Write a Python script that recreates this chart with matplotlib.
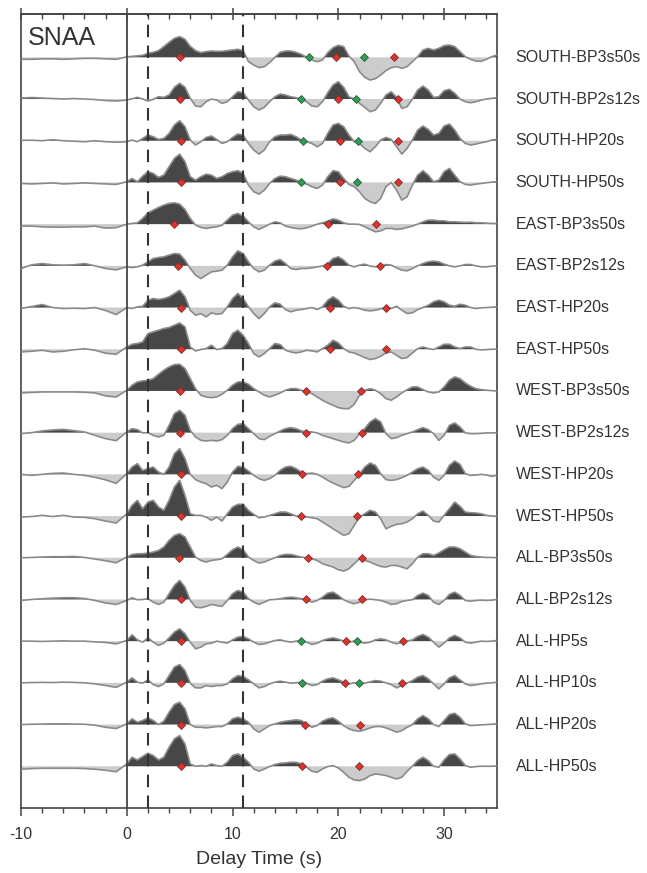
import numpy as np
import matplotlib.pyplot as plt
from matplotlib.ticker import MultipleLocator

plt.rcParams['font.family'] = ['Liberation Sans', 'DejaVu Sans']
plt.rcParams['axes.unicode_minus'] = False

# =========================
# sample times: 1 s steps before zero, 0.5 s steps after
# =========================
delay = np.concatenate([np.arange(-10, 0, 1.0), np.arange(0, 35.01, 0.5)])

names = [
    'SOUTH-BP3s50s', 'SOUTH-BP2s12s', 'SOUTH-HP20s', 'SOUTH-HP50s',
    'EAST-BP3s50s', 'EAST-BP2s12s', 'EAST-HP20s', 'EAST-HP50s',
    'WEST-BP3s50s', 'WEST-BP2s12s', 'WEST-HP20s', 'WEST-HP50s',
    'ALL-BP3s50s', 'ALL-BP2s12s', 'ALL-HP5s', 'ALL-HP10s', 'ALL-HP20s', 'ALL-HP50s',
]

# amplitudes (arbitrary units)
south_bp3s50s = [-2, -2, -1.5, -1.5, -2, -1.5, -1, -1, -1.5, -2,
                 0.5, 1, 1.5, 2, 4, 5, 6.7, 10.7, 15, 19,
                 20.7, 18, 11, 6.7, 4.7, 5.7, 6.3, 6, 6, 6.7,
                 7.3, 8, 6.7, -4.3, -7.7, -10.3, -9.3, -5.3, 0, 5,
                 6.3, 6.3, 5, 3, 0, -2.7, -4.3, -2.7, 4.7, 9.7,
                 12, 10.7, 1.3, -4.3, -14.3, -20, -22.7, -21.3, -17.7, -13.3,
                 -10.3, -9.3, -11, -9.3, -4.3, 0.7, 7.3, 9, 7.3, 9,
                 11.7, 12.3, 10.7, 5.7, 0.7, -2, -3.7, -4, -2, 0.7, 2.3]
south_bp2s12s = [1, 1.5, 1, 0.5, 0, 0.5, 0, -0.5, -1.5, -2,
                 -1, 0.3, 1.7, 0, -2, -0.3, 2.3, 1.7, 4, 11.7,
                 15.7, 11.7, 0.7, -7, -7.7, -2.7, 0, -1, -4.3, -2.7,
                 2.3, 7.3, 6.3, -1, -7.7, -11, -8.3, -2.7, 2.3, 5,
                 4, 2.3, 1.3, 0, -2.7, -7, -7.7, -2.7, 6.3, 14,
                 17.3, 11.7, 2.3, 0, -4.3, -8.3, -12.7, -11, -4.3, 4,
                 7.3, 1.7, -9.3, -7.7, 0, 9, 13, 9, 1.7, 2.3,
                 8.3, 9.7, 5.7, 0, -2.7, -3.7, -2.7, -1, 0, 0.7, 1.3]
south_hp20s = [0.5, 0.5, 0, 1, 0, -0.5, -1, 0, -1, -1.5,
               -1, 0.7, -1, 2.3, 5.7, 4, 1.3, 2.3, 7.3, 15.7,
               20, 14, 0.7, -4.3, -1, 3.3, 4.7, 1.3, -2.7, -1,
               3.3, 6.7, 5.7, -2.7, -9.3, -13.3, -9.3, -1, 4, 5.7,
               5.7, 6.3, 4, 0.7, -1, -2.7, -6, -2.7, 7.3, 15.7,
               17.3, 14, 5.7, -1, -2.7, -7.7, -11, -6, 0.7, 3.3,
               1.3, -6, -13.3, -7.7, 0.7, 10.7, 14.7, 11.3, 5.7, 7.3,
               14.7, 16.7, 10.7, 2.3, -2.7, -4.3, -3.3, -2, -1, 0.7, 1.3]
south_hp50s = [-1, -1.5, -1, -0.5, -1.5, -1, -0.5, -1, -1.5, -2,
               0.7, 4, 0.7, 6.3, 10.7, 9, 5, 7.3, 15.7, 24,
               28.3, 20.7, 5.7, 2.3, 5.7, 8.3, 7.3, 4, 5.7, 9,
               10.7, 11.7, 9, -2.7, -9.3, -11.7, -7.7, -1, 4, 6.3,
               5.7, 4, 2.3, 0, -1.7, -4.3, -6, -2.7, 5.7, 11.7,
               10.7, 4, -2, -4.3, -9.3, -16, -19.3, -21, -16, -4.3,
               0, -7.7, -17.7, -14.3, -2.7, 7.3, 11.7, 7.3, 0.7, 2.3,
               10.7, 14, 7.3, 0.7, -2, -2.7, -1.7, -1, -0.3, 0.3, 0.7]
east_bp3s50s = [-2, -2, -2.7, -3, -3, -2.7, -2.7, -2, -4, -3.5,
                0, 0.7, 1.3, 5.7, 11.3, 14, 16.7, 19, 20.7, 21.3,
                20, 14.7, 5.7, -1, -3.3, -4.3, -3.3, -2.7, -1, 4,
                9, 10.7, 8, 2.3, -2.7, -5.3, -2.7, 0, 2.3, 1.3,
                -2, -3.3, -4.3, -4.7, -3.7, -2, 0, 1.3, 3, 5.3,
                4, 1.3, 0, 0, -0.3, -2.7, -5.3, -7.7, -6.7, -4.3,
                -4.3, -5.3, -4.7, -3.3, -2, 0, 2.3, 4, 4, 3.3,
                3.3, 2.3, 2.3, 2, 1.7, 2, 1.3, 1.3, 1, 0.7, 0.7]
east_bp2s12s = [-2.7, 1, 2.3, 1, 0.7, 1, 2.3, 0, -2.7, -4,
                -1, -1.7, -1, 0.7, 4, 7.3, 8.3, 9, 10.7, 12.3,
                11.7, 5.7, -2.7, -9.3, -12.7, -9.3, -6, -5.3, -4.3, 0.7,
                9, 15, 12.3, 4, -2.7, -6, -4.3, 0.7, 4.7, 6.3,
                2.3, -2.7, -3.7, -2.7, -2.7, -2, -1, -0.3, 2.3, 7.3,
                9, 5.7, 0.7, -1, 0.7, 1.7, -0.3, -1, 0, 1.3,
                0.7, -2, -4.3, -5, -2.7, 0, 2.3, 4, 4.7, 4,
                1.7, 0, -1, 0, 1.3, 1.3, 0, -1, -1, -0.3, 0]
east_hp20s = [-1, 1, 3, 0, -1, -0.7, -1, 0, -3, -7,
              0, -1, 0.7, 1.3, 7.3, 9, 8, 9, 10.7, 14,
              17.3, 10.7, -2.7, -7.7, -6, -9.3, -5.3, -6.7, -6, 0.7,
              9, 14, 9, 0.7, -6, -11, -6, 0.7, 4.7, 3.3,
              -2, -4.3, -2.7, -2, -1, 0, -2, 0.7, 7.3, 10.7,
              7.3, 1.3, -1, 0, -1, -2.7, -3.3, -2.7, -1.3, 0,
              -1, 1.3, -2.7, -6, -5.3, -2, 0, 2.3, 5.7, 7.3,
              5.7, 2.3, 1.3, 3.3, 2.3, 0, -1, -0.3, 0, 0.3, 0.7]
east_hp50s = [-2.7, -2, -1, -2.7, -2, -0.5, 0.5, -1, -4, -5,
              2.3, 5, 5.7, 7.3, 15.7, 17.3, 19, 20.7, 21.7, 24,
              26.3, 22.3, 2.3, -1.7, -0.3, 0.7, 4, -0.3, 0.7, 5.7,
              15.7, 19, 14, 5.7, -4.3, -7.7, -4.3, 0.7, 5.7, 4.7,
              -1, -2.7, -3.7, -2.7, -1, -1.7, -2.7, 0.7, 4, 9,
              6.3, 0.7, -2.7, -3.7, -6, -8.3, -10.3, -9.3, -7, -3.7,
              -2.7, -6, -9.3, -8.3, -3.7, 0.7, 2.3, 0.7, -0.3, 2.3,
              5, 5, 2.3, 0.7, 2.3, 2.3, 0, -0.7, -0.3, 0, 0]
west_bp3s50s = [-2, -1.5, -1, -1, -1, -1, -1.3, -2, -5, -6,
                0.7, 5.7, 9, 10, 10.7, 12.3, 16.7, 20.7, 24, 26.3,
                26.7, 22.3, 12.3, 2.3, -4.3, -6, -6.7, -6, -3.3, 0.7,
                5.7, 9, 9, 6.7, 2.3, -1, -4.3, -6, -4.3, -2,
                0.7, 2.3, 2.3, 0.7, -1, -2.7, -6, -9.3, -12, -14.3,
                -16.7, -17.7, -17.7, -13.3, -4.3, 0.7, 2.3, 0.7, -2.7, -7.7,
                -9.3, -6, -2, 1.3, 4, 4, 1.3, -1, -2, -1,
                4, 10.7, 14, 12.3, 8, 4.7, 2.3, 1.3, 0.7, 0.3, 0]
west_bp2s12s = [-1, 0, 1.7, 2.7, 3.3, 2, 0.7, -2.7, -6, -8,
                0.7, 4, 3, -0.3, 0, -2.7, -4.3, -2.7, 7.3, 19,
                22.3, 17.3, 2.3, -4.3, -7.7, -8.3, -7.7, -8.3, -7, -2.7,
                4, 8.3, 9, 4, -1, -6, -7, -3.7, -1, 1.7,
                4, 5, 4, 1.7, 0.7, 0.7, -0.3, -2.7, -4.3, -6,
                -7.7, -9.3, -10.3, -7.7, -1, 4, 10.7, 14, 10.7, -1,
                -6, -5, -2.7, -1, 0.7, 3, 5, 3, -1, -7.7,
                -2.7, 7.3, 9.7, 5.7, -0.3, -1, -1, -0.7, -0.3, -0.3, 0]
west_hp20s = [0, -1, 0, 1, 1.3, 0, -1, -3, -5.5, -9,
              0.7, 7.3, 10.7, 4, 5.7, 7.3, 2.3, 0, 7.3, 20.7,
              25.7, 15.7, 0, -5.3, -7.7, -9.3, -12.7, -11, -14.3, -7.7,
              2.3, 8, 7.3, 3.3, -1, -4.3, -6, -4.3, -1, 4,
              7.3, 8, 5.7, 2.3, 0.7, 1.3, 0, -2.7, -6, -8.7,
              -11, -13.3, -12, -6, 0, 7.3, 11.3, 9, 0.7, -5.3,
              -6, -5.3, -3.3, -1, 2.3, 5.7, 7.3, 4, -2.7, -6,
              -1, 9, 13.3, 10, 0.7, -1, -0.7, 0, -0.7, -2, -1]
west_hp50s = [-1, -0.5, 0.7, -0.5, 0.7, -1, -1.3, -2.7, -5, -7,
              2.3, 10.7, 15.7, 7.3, 14, 15.7, 9, 5.7, 15.7, 29,
              35.7, 20.7, 2.3, 0.7, 0.7, -1, -4.3, -1, -5, 2.3,
              9, 11.7, 11.7, 5.7, 1.7, -1.7, -1, 0.7, 2.3, 4,
              4, 2.3, 0, -1, -1, -1.7, -2.7, -6, -9.3, -12.7,
              -16, -19.3, -17.7, -9.3, -1, 2.3, 5.7, 4, -2.7, -12.7,
              -10.3, -8.3, -7.7, -6, -2.7, 2.3, 5, 0.7, -5, -6,
              0.7, 7.3, 14, 9.7, 4, 3.3, 3, 2.3, 0.7, 0, -0.3]
all_bp3s50s = [0, 0.3, 0.7, 1, 1, 1.3, 0.3, -1.3, -3, -5,
               0.7, 3.3, 4, 4, 4.7, 5.7, 7.3, 10.7, 17.3, 22.3,
               24, 20.7, 10.7, 0.7, -2.7, -4.3, -2.7, -2, -1, 3.3,
               8, 10.7, 8, 0.7, -2.7, -5.3, -4.3, -2, 0, 2.3,
               3.3, 3.3, 2, 0.7, 0, -1, -2.7, -6, -7.7, -9.3,
               -12, -13.3, -11, -6, -1, -2.7, -4.3, -6.7, -8.7, -9.3,
               -7.7, -7.7, -9.3, -11, -6, 0.7, 4, 4, 2.3, 4.7,
               8, 10.7, 10.7, 9, 5.7, 2.3, 1.3, 0.7, 0.3, 0.3, 0]
all_bp2s12s = [-1, 0, 0.7, 1.3, 1.7, 1.7, 1, -1, -3.5, -5,
               -1, 1.7, -0.3, 0, 0.7, -2.7, -5, -2.7, 5.7, 14,
               19, 12.3, -1, -7.7, -8.3, -7, -5, -6, -7, -1,
               5.7, 9, 7.3, 0.7, -2.7, -5, -2.7, -0.3, 0, 0.7,
               1.7, 2.3, 1.7, 0.7, -0.3, -2.7, -1, 2.3, 6.3, 7.3,
               4, -0.3, -2.7, -4.3, -2.7, -0.3, 0.3, -0.3, -1, -2.7,
               -5, -4.3, -2, -1, -0.3, 4, 6.3, 4, -2.7, -5,
               -1, 5, 7.3, 4, -1, -1.7, -1, -0.7, -1, -0.7, 0]
all_hp5s = [0, 0, -0.3, 0, 0.3, 0, 0, -0.7, -1.3, -2.7,
            0.7, 6.3, 1.3, -1, 3.3, -1, -4.3, -2, 3.3, 9,
            12.3, 7.3, -1, -7.7, -6, -2.7, -2, 0, -1, -2,
            1.3, 4, 4.7, 2.3, -1, -3.3, -2.7, -1, 0.7, 1.3,
            0, -1, 0, 0, -1, -3.3, -2, 0.7, 2.3, 3.3,
            2, 0, -1, 0, -1, -2, -1, 1.3, 2.3, 1.3,
            -1, -2.7, -1, 0, 1.3, 4.7, 6.7, 4, -1, -6,
            -2, 3.3, 5.7, 3.3, -1, -2, -1, 0, -0.3, 0, 0.7]
all_hp10s = [0, 0.3, 0.5, 0.3, 0.7, 0.5, 0, -1, -2.7, -4.5,
             0.7, 5, 0.7, -0.3, 3, -1.7, -3.7, -1, 7.3, 15.7,
             18.3, 12.3, -0.3, -5, -5, -2.7, -3.7, -2.7, -2.7, -1,
             4, 7.3, 6.3, 3, -1, -5, -3.7, -1, 0.7, 1.7,
             0.7, -0.3, 0, 0.7, -0.3, -2.7, -1.7, 1.7, 4, 5,
             3, 0.7, -1, 0, -1, -0.3, 1, 2.3, 1.7, 0,
             -1.7, -5, -2.7, -0.3, 2.3, 5.7, 7.3, 4, -1, -6,
             -1, 5, 7.3, 3, -1, -2.7, -2, -1, -0.3, 0, 0.7]
all_hp20s = [0, 0.3, 0.5, 0.7, 0.7, 0.5, 0.3, -0.7, -2.7, -4,
             0.7, 5.7, 2.3, 4, 6.7, 4, 0, 3.3, 12.3, 20,
             22.3, 15.7, 0, -2.7, -2.7, -3.3, -2.7, -2, -2, 0.7,
             5.7, 7.3, 5.7, 2.3, -4.3, -7.7, -4.3, -1, 0.7, 2.3,
             3.3, 4, 4.7, 4, 0.7, -2.7, -1, 3.3, 5.7, 6.7,
             3.3, -1, -4.3, -6, -6.7, -5.3, -3.3, -2, -2, -3.3,
             -5.3, -7.7, -6, -2.7, 0, 5.7, 9, 5.7, 0, -2,
             4, 10, 11.3, 7.3, 0.7, -1, -0.7, -0.3, 0, 0.3, 0.7]
all_hp50s = [-3, -2.3, -2, -2, -2, -2, -2.3, -3, -4, -5.5,
             2.3, 9, 6.3, 9.7, 13, 10.7, 6.3, 9, 19, 27.3,
             30.7, 22.3, 2.3, 0, 0.7, 0, 2.3, 0.7, 0, 4,
             10.7, 12.3, 9, 4, -2.7, -5, -2.7, -0.3, 1.7, 3,
             3.3, 4, 4, 2.3, -1, -5, -6, -2.7, -0.3, 0.7,
             -1.7, -6, -11, -13.7, -14.3, -12.7, -9.3, -7.7, -8.3, -9.3,
             -11, -12.7, -11, -5, 0, 5.7, 9, 5.7, 0, -1,
             6.3, 11.7, 12.3, 7.3, 0.7, -1, -0.3, 0, 0, 0, 0.3]

traces = [south_bp3s50s, south_bp2s12s, south_hp20s, south_hp50s,
          east_bp3s50s, east_bp2s12s, east_hp20s, east_hp50s,
          west_bp3s50s, west_bp2s12s, west_hp20s, west_hp50s,
          all_bp3s50s, all_bp2s12s, all_hp5s, all_hp10s, all_hp20s, all_hp50s]

# picked phase times (s)
red_marks = [
    [5.0, 19.8, 25.3], [5.05, 20.0, 25.6], [5.15, 20.15, 25.65], [5.15, 20.2, 25.65],
    [4.5, 19.0, 23.6], [4.85, 18.9, 23.95], [5.15, 19.2, 24.5], [5.15, 19.2, 24.5],
    [5.05, 16.9, 22.1], [5.05, 16.9, 22.2], [5.15, 16.6, 21.9], [5.15, 16.5, 21.8],
    [4.95, 17.1, 22.2], [5.15, 16.9, 22.2], [5.15, 20.7, 26.1], [5.15, 20.6, 26.0],
    [5.15, 16.8, 22.0], [5.15, 16.6, 21.95],
]
green_marks = {
    0: [17.2, 22.4], 1: [16.5, 21.7], 2: [16.7, 21.9], 3: [16.5, 21.75],
    14: [16.5, 21.8], 15: [16.6, 21.95],
}

SPACING = 41.7   # amplitude units per trace step

fig = plt.figure(figsize=(6.47, 8.73), dpi=100)
ax = fig.add_axes([0.0325, 0.0745, 0.7357, 0.9095])

for i, (name, amp) in enumerate(zip(names, traces)):
    y = np.array(amp) / SPACING
    base = -i
    ax.fill_between(delay, base, base + y, where=y >= 0, interpolate=True,
                    color='#474747', lw=0, zorder=2)
    ax.fill_between(delay, base, base + y, where=y <= 0, interpolate=True,
                    color='#cccccc', lw=0, zorder=2)
    ax.plot(delay, base + y, color='#8a8a8a', lw=1.2, zorder=3)
    ax.text(36.75, base, name, ha='left', va='center', fontsize=11.5,
            color='#333333', clip_on=False)
    ax.plot(red_marks[i], [base] * len(red_marks[i]), 'D', ms=3.8,
            mfc='#e0312a', mec='#7a3030', mew=0.6, zorder=6)
    if i in green_marks:
        ax.plot(green_marks[i], [base] * len(green_marks[i]), 'D', ms=3.8,
                mfc='#2e9e55', mec='#2f5a3a', mew=0.6, zorder=6)

ax.axvline(0, color='#444444', lw=1.3, zorder=5)
for tx in [2.0, 11.0]:
    ax.axvline(tx, color='#333333', lw=1.5, dashes=(6, 4), zorder=5)

ax.text(-9.4, 0.46, 'SNAA', ha='left', va='center', fontsize=18, color='#333333')

ax.set_xlim(-10, 35)
ax.set_ylim(-18.0, 1.04)
ax.set_yticks([])
ax.xaxis.set_major_locator(MultipleLocator(10))
ax.xaxis.set_minor_locator(MultipleLocator(2))
ax.tick_params(axis='x', which='major', direction='out', length=6, width=1.1,
               labelsize=11.5, labelcolor='#333333', color='#444444', pad=8)
ax.tick_params(axis='x', which='minor', direction='out', length=3.5, width=1.0,
               color='#444444')
for sp in ax.spines.values():
    sp.set_color('#444444')
    sp.set_linewidth(1.2)

# top axis: inward minor ticks, crossing major ticks
top = ax.secondary_xaxis('top')
top.xaxis.set_major_locator(MultipleLocator(10))
top.xaxis.set_minor_locator(MultipleLocator(2))
top.tick_params(which='major', direction='inout', length=9, width=1.1,
                color='#444444', labeltop=False)
top.tick_params(which='minor', direction='in', length=3.5, width=1.0,
                color='#444444')
top.spines['top'].set_color('#444444')
top.spines['top'].set_linewidth(1.2)

ax.set_xlabel('Delay Time (s)', fontsize=14, color='#333333', labelpad=6)

fig.savefig('out.png', dpi=100)
